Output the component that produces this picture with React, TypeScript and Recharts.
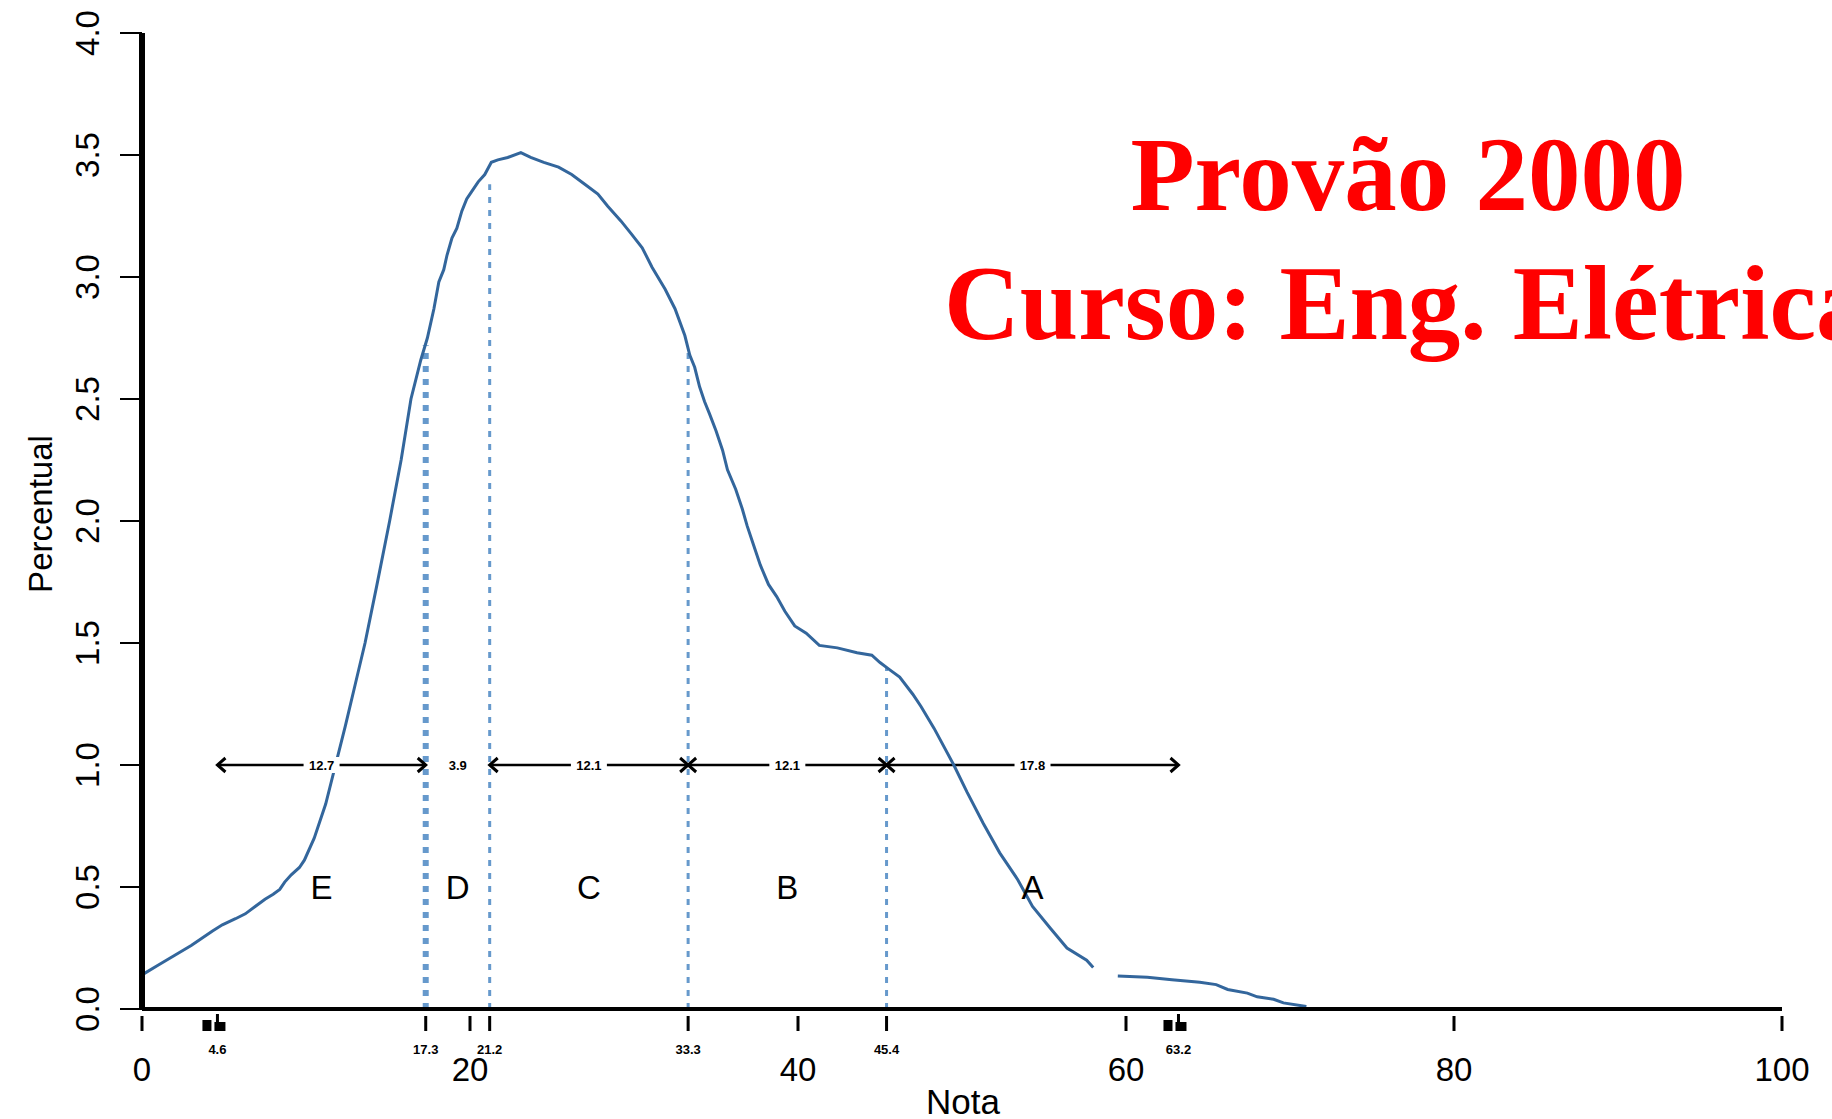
import React from 'react';
import { LineChart, Line, XAxis, YAxis, ReferenceLine, ReferenceDot } from 'recharts';

// Density curve (Nota -> Percentual)
const notaValues = [
  0, 1.0, 2.0, 3.0, 3.65, 4.3, 4.9, 5.7, 6.3, 6.9, 7.5, 8.0, 8.4, 8.7, 9.1, 9.6, 9.9,
  10.5, 11.2, 11.8, 12.4, 13.0, 13.6, 14.3, 15.1, 15.8, 16.4, 17.0, 17.4, 17.8, 18.1,
  18.4, 18.6, 18.9, 19.2, 19.5, 19.8, 20.1, 20.5, 20.9, 21.3, 21.7, 22.3, 23.1, 23.7,
  24.5, 25.4, 26.2, 27.0, 27.8, 28.4, 29.2, 29.8, 30.5, 31.1, 31.9, 32.5, 33.1, 33.4,
  33.7, 34.0, 34.3, 34.6, 35.0, 35.4, 35.7, 36.2, 36.6, 36.9, 37.3, 37.7, 38.2, 38.7,
  39.2, 39.8, 40.5, 41.3, 42.4, 43.6, 44.5, 45.0, 45.6, 46.2, 47.0, 47.5, 48.3, 49.5,
  50.3, 51.3, 52.3, 53.4, 54.3, 55.4, 56.4, 57.6, 58.0, 58.6, 59.5, 61.3, 62.8, 64.5,
  65.5, 66.2, 67.4, 68.0, 69.0, 69.6, 71.0,
];
const percentValues: (number | null)[] = [
  0.14, 0.18, 0.22, 0.26, 0.29, 0.32, 0.345, 0.37, 0.39, 0.42, 0.45, 0.47, 0.49, 0.52, 0.55, 0.58, 0.61,
  0.70, 0.84, 1.0, 1.16, 1.33, 1.5, 1.73, 2.0, 2.25, 2.5, 2.66, 2.75, 2.87, 2.98,
  3.03, 3.09, 3.16, 3.2, 3.27, 3.32, 3.35, 3.39, 3.42, 3.47, 3.48, 3.49, 3.51, 3.49,
  3.47, 3.45, 3.42, 3.38, 3.34, 3.29, 3.23, 3.18, 3.12, 3.04, 2.95, 2.87, 2.76, 2.68,
  2.63, 2.55, 2.49, 2.44, 2.37, 2.29, 2.21, 2.13, 2.05, 1.98, 1.9, 1.82, 1.74, 1.69,
  1.63, 1.57, 1.54, 1.49, 1.48, 1.46, 1.45, 1.42, 1.39, 1.36, 1.29, 1.24, 1.15, 1.0,
  0.89, 0.76, 0.64, 0.53, 0.42, 0.33, 0.25, 0.2, 0.17, null, 0.135, 0.13, 0.12, 0.11,
  0.1, 0.08, 0.065, 0.05, 0.04, 0.025, 0.01,
];

// Cut points of the grade classes
const cutPoints = [4.6, 17.3, 21.2, 33.3, 45.4, 63.2];
const cutLabels = ['4.6', '17.3', '21.2', '33.3', '45.4', '63.2'];
const dashedCuts = [17.3, 21.2, 33.3, 45.4];
const dashedTops = [2.72, 3.38, 2.71, 1.4];
const dashedWidths = [6, 3, 3, 3];
const gapLabels = ['12.7', '3.9', '12.1', '12.1', '17.8'];
const classLetters = ['E', 'D', 'C', 'B', 'A'];
const arrowLevel = 1.0;
const letterLevel = 0.5;

const majorXTicks = [0, 20, 40, 60, 80, 100];
const markerTicks = [4.6, 63.2];
const xTicks = [0, 4.6, 17.3, 20, 21.2, 33.3, 40, 45.4, 60, 63.2, 80, 100];
const yTicks = [0, 0.5, 1, 1.5, 2, 2.5, 3, 3.5, 4];

const titleLine1 = 'Provão 2000';
const titleLine2 = 'Curso: Eng. Elétrica';
const xTitle = 'Nota';
const yTitle = 'Percentual';

const data = notaValues.map((n, i) => ({ nota: n, pct: percentValues[i] }));

const SANS = '"Liberation Sans", Arial, Helvetica, sans-serif';
const CURVE = '#33669c';
const DASH = '#6699cc';

const XTick = (props: any) => {
  const { x, y, payload } = props;
  const v = payload.value;
  const major = majorXTicks.includes(v);
  const marker = markerTicks.includes(v);
  const ci = cutPoints.indexOf(v);
  return (
    <g>
      {marker ? (
        <g fill="#000">
          <rect x={x - 1.5} y={y + 5} width={3} height={17} />
          <rect x={x - 15} y={y + 11} width={9} height={11} />
          <rect x={x - 3} y={y + 13} width={11} height={9} />
        </g>
      ) : (
        <line x1={x} x2={x} y1={y + 7} y2={y + 22} stroke="#000" strokeWidth={3} />
      )}
      {major ? (
        <text x={x} y={y + 72} textAnchor="middle" fontSize={33} fontFamily={SANS} fill="#000">
          {v}
        </text>
      ) : null}
      {ci >= 0 ? (
        <text x={x} y={y + 45} textAnchor="middle" fontSize={13} fontWeight="bold" fontFamily={SANS} fill="#000">
          {cutLabels[ci]}
        </text>
      ) : null}
    </g>
  );
};

const YTick = (props: any) => {
  const { x, y, payload } = props;
  const tx = x - 43;
  return (
    <g>
      <line x1={x - 22} x2={x} y1={y} y2={y} stroke="#000" strokeWidth={2} />
      <text
        x={tx}
        y={y}
        transform={`rotate(-90 ${tx} ${y})`}
        textAnchor="middle"
        fontSize={33}
        fontFamily={SANS}
        fill="#000"
      >
        {Number(payload.value).toFixed(1)}
      </text>
    </g>
  );
};

const chevron = (dir: 'left' | 'right') => (p: any) => {
  const { cx, cy } = p;
  const d = dir === 'right'
    ? `M ${cx - 8} ${cy - 7} L ${cx} ${cy} L ${cx - 8} ${cy + 7}`
    : `M ${cx + 8} ${cy - 7} L ${cx} ${cy} L ${cx + 8} ${cy + 7}`;
  return <path d={d} stroke="#000" strokeWidth={3} fill="none" />;
};

const gapLabelShape = (label: string) => (p: any) => {
  const { cx, cy } = p;
  return (
    <g>
      <rect x={cx - 18} y={cy - 8} width={36} height={16} fill="#fff" />
      <text x={cx} y={cy + 5} textAnchor="middle" fontSize={13} fontWeight="bold" fontFamily={SANS} fill="#000">
        {label}
      </text>
    </g>
  );
};

const letterShape = (label: string) => (p: any) => {
  const { cx, cy } = p;
  return (
    <text x={cx} y={cy + 12} textAnchor="middle" fontSize={33} fontFamily={SANS} fill="#000">
      {label}
    </text>
  );
};

export default function App() {
  const segments: [number, number][] = [];
  for (let i = 0; i < cutPoints.length - 1; i++) {
    if (i === 1) continue;
    segments.push([cutPoints[i], cutPoints[i + 1]]);
  }
  const mids = cutPoints.slice(0, -1).map((c, i) => (c + cutPoints[i + 1]) / 2);

  return (
    <div style={{ position: 'absolute', left: 0, top: 0, width: 1832, height: 1119, background: '#fff' }}>
      <LineChart
        width={1832}
        height={1119}
        data={data}
        margin={{ top: 33, right: 50, bottom: 0, left: 0 }}
      >
        <XAxis
          type="number"
          dataKey="nota"
          domain={[0, 100]}
          ticks={xTicks}
          interval={0}
          height={110}
          axisLine={{ stroke: '#000', strokeWidth: 4 }}
          tickLine={false}
          tickSize={0}
          tickMargin={0}
          tick={<XTick />}
          allowDataOverflow
        />
        <YAxis
          type="number"
          domain={[0, 4]}
          ticks={yTicks}
          interval={0}
          width={142}
          axisLine={{ stroke: '#000', strokeWidth: 6 }}
          tickLine={false}
          tickSize={0}
          tickMargin={0}
          tick={<YTick />}
          allowDataOverflow
        />
        {dashedCuts.map((c, i) => (
          <ReferenceLine
            key={'d' + i}
            segment={[{ x: c, y: 0 }, { x: c, y: dashedTops[i] }]}
            stroke={DASH}
            strokeWidth={dashedWidths[i]}
            strokeDasharray="6 7"
          />
        ))}
        {segments.map(([a, b], i) => (
          <ReferenceLine
            key={'s' + i}
            segment={[{ x: a, y: arrowLevel }, { x: b, y: arrowLevel }]}
            stroke="#000"
            strokeWidth={2.5}
          />
        ))}
        {segments.map(([a, b], i) => (
          <ReferenceDot key={'la' + i} x={a} y={arrowLevel} r={1} shape={chevron('left')} />
        ))}
        {segments.map(([a, b], i) => (
          <ReferenceDot key={'ra' + i} x={b} y={arrowLevel} r={1} shape={chevron('right')} />
        ))}
        {mids.map((m, i) => (
          <ReferenceDot key={'gl' + i} x={m} y={arrowLevel} r={1} shape={gapLabelShape(gapLabels[i])} />
        ))}
        {mids.map((m, i) => (
          <ReferenceDot key={'lt' + i} x={m} y={letterLevel} r={1} shape={letterShape(classLetters[i])} />
        ))}
        <Line
          type="linear"
          dataKey="pct"
          stroke={CURVE}
          strokeWidth={3}
          dot={false}
          activeDot={false}
          isAnimationActive={false}
          connectNulls={false}
        />
      </LineChart>
      <svg
        width={1832}
        height={1119}
        style={{ position: 'absolute', left: 0, top: 0, pointerEvents: 'none' }}
      >
        <text
          x={1408}
          y={210}
          textAnchor="middle"
          fontSize={105}
          fontWeight="bold"
          fontFamily='"Liberation Serif", "Times New Roman", serif'
          fill="#ff0000"
        >
          {titleLine1}
        </text>
        <text
          x={944}
          y={339}
          textAnchor="start"
          fontSize={105}
          fontWeight="bold"
          fontFamily='"Liberation Serif", "Times New Roman", serif'
          fill="#ff0000"
        >
          {titleLine2}
        </text>
        <text x={963} y={1114} textAnchor="middle" fontSize={35} fontFamily={SANS} fill="#000">
          {xTitle}
        </text>
        <text
          x={52}
          y={514}
          transform="rotate(-90 52 514)"
          textAnchor="middle"
          fontSize={33}
          fontFamily={SANS}
          fill="#000"
        >
          {yTitle}
        </text>
      </svg>
    </div>
  );
}
